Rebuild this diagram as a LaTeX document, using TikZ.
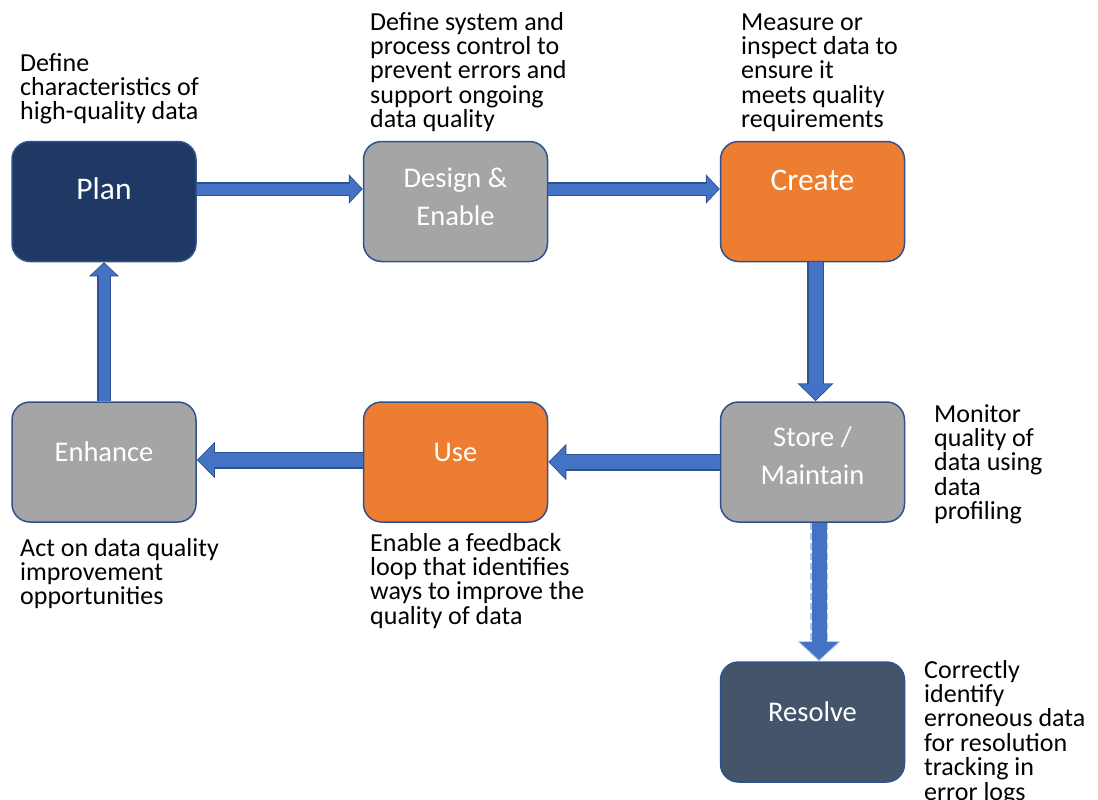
\documentclass[tikz,border=0pt]{standalone}
\usepackage{fontspec}
\setmainfont{Carlito}
\usetikzlibrary{arrows.meta}

\definecolor{plancol}{HTML}{203864}
\definecolor{greycol}{HTML}{A5A5A5}
\definecolor{orangecol}{HTML}{ED7D31}
\definecolor{resolvecol}{HTML}{44546A}
\definecolor{edgecol}{HTML}{2F528F}
\definecolor{arrowcol}{HTML}{4472C4}
\definecolor{lightedge}{HTML}{B4C7E7}

\begin{document}
\begin{tikzpicture}[x = 1pt, y = -1pt,
    box/.style = {draw = edgecol, line width = 1.5pt, rounded corners = 18pt,
                  minimum width = 184pt, minimum height = 120pt, inner sep = 0pt},
    boxtext/.style = {text = white, font = \fontsize{28.5}{38}\selectfont, align = center, inner sep = 0pt},
    bigtext/.style = {boxtext, font = \fontsize{31.5}{38}\selectfont},
    note/.style = {anchor = base west, align = left, inner sep = 0pt, font = \fontsize{26}{24.4}\selectfont},
    thinflow/.style = {draw = arrowcol, line width = 11pt, -{Triangle[width = 25pt, length = 11.5pt]}, shorten > = 1.5pt,
                       preaction = {draw = edgecol, line width = 14pt, -{Triangle[width = 29pt, length = 14pt]}, shorten > = 0pt}},
    thickflow/.style = {draw = arrowcol, line width = 14pt, -{Triangle[width = 31pt, length = 15.5pt]}, shorten > = 1.5pt,
                        preaction = {draw = edgecol, line width = 17pt, -{Triangle[width = 35pt, length = 18pt]}, shorten > = 0pt}},
    dashflow/.style = {draw = arrowcol, line width = 15pt, -{Triangle[width = 38pt, length = 18pt]}, shorten > = 1.5pt,
                       preaction = {draw = lightedge, line width = 18pt, dash pattern = on 7pt off 3pt,
                                    -{Triangle[width = 42pt, length = 20pt]}, shorten > = 0pt}}]
  \useasboundingbox (0, 0) rectangle (1098, 800);

  % steps
  \node [box, fill = plancol, label = {[bigtext, name = plan-l, yshift = 12.5pt]center:Plan}] (plan) at (104, 201.5){};
  \node [box, fill = greycol, label = {[boxtext, name = design-l, yshift = 5pt]center:Design \&\\Enable}] (design) at (455.5, 201.5){};
  \node [box, fill = orangecol, label = {[bigtext, name = create-l, yshift = 21pt]center:Create}] (create) at (812.5, 201.5){};
  \node [box, fill = greycol, label = {[boxtext, name = store-l, yshift = 6pt]center:Store /\\Maintain}] (store) at (812.5, 462){};
  \node [box, fill = orangecol, label = {[boxtext, name = use-l, yshift = 10pt]center:Use}] (use) at (455.5, 462){};
  \node [box, fill = greycol, label = {[boxtext, name = enhance-l, yshift = 10pt]center:Enhance}] (enhance) at (104, 462){};
  \node [box, fill = resolvecol, label = {[boxtext, name = resolve-l, yshift = 10pt]center:Resolve}] (resolve) at (812.5, 722){};

  % notes (anchored at the baseline of the last line)
  \node [note] (plan-n) at (20, 119.8){Define\\characteristics of\\high-quality data};
  \node [note] (design-n) at (370, 127.6){Define system and\\process control to\\prevent errors and\\support ongoing\\data quality};
  \node [note] (create-n) at (741, 127.6){Measure or\\inspect data to\\ensure it\\meets quality\\requirements};
  \node [note] (store-n) at (934, 519.6){Monitor\\quality of\\data using\\data\\profiling};
  \node [note] (use-n) at (370, 624.2){Enable a feedback\\loop that identifies\\ways to improve the\\quality of data};
  \node [note] (enhance-n) at (20, 604.8){Act on data quality\\improvement\\opportunities};
  \node [note] (resolve-n) at (924, 800){Correctly\\identify\\erroneous data\\for resolution\\tracking in\\error logs};

  % flow
  \draw [thinflow] ([yshift = 12.5pt]plan.east) -- ([yshift = 12.5pt]design.west);
  \draw [thinflow] ([yshift = 12.5pt]design.east) -- ([yshift = 12.5pt]create.west);
  \draw [thickflow] ([xshift = 3pt]create.south) -- ([xshift = 3pt]store.north);
  \draw [thickflow] (store.west) -- (use.east);
  \draw [thickflow] ([yshift = 2pt]use.west) -- ([yshift = 2pt]enhance.east);
  \draw [thinflow] (enhance.north) -- (plan.south);
  \draw [dashflow] ([xshift = 6.5pt]store.south) -- ([xshift = 6.5pt]resolve.north);
\end{tikzpicture}
\end{document}
